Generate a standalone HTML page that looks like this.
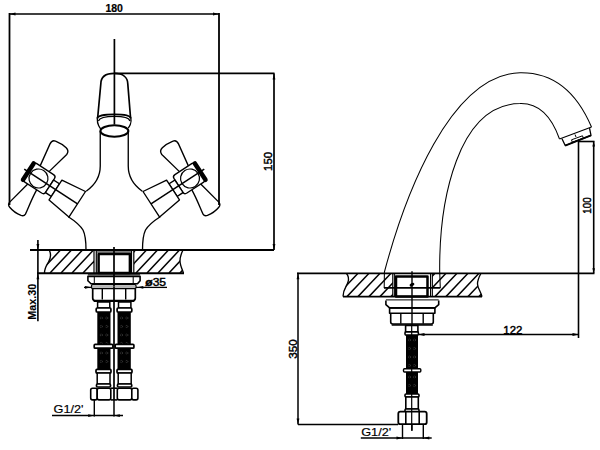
<!DOCTYPE html>
<html><head><meta charset="utf-8"><style>
html,body{margin:0;padding:0;background:#fff;}
svg{display:block;}
text{font-family:"Liberation Sans",sans-serif;}
</style></head><body>
<svg width="600" height="450" viewBox="0 0 600 450">
<rect width="600" height="450" fill="#fff"/>
<g fill="none" stroke="#000" stroke-width="1.35" stroke-linecap="butt" stroke-linejoin="round">
  <!-- LEFT VIEW dims -->
  <line x1="9.5" y1="14" x2="219" y2="14" stroke-width="1.7"/>
  <line x1="9.5" y1="13" x2="9.5" y2="205" stroke-width="1.8"/>
  <line x1="219" y1="13" x2="219" y2="205" stroke-width="1.8"/>
  <line x1="114.4" y1="39" x2="114.4" y2="124.5" stroke-width="1.7"/>
  <line x1="114.4" y1="73.4" x2="274.5" y2="73.4" stroke-width="1.7"/>
  <line x1="274" y1="73.4" x2="274" y2="250" stroke-width="1.7"/>
  <line x1="30" y1="250" x2="274" y2="250" stroke-width="1.9"/>
  <line x1="37" y1="273.2" x2="184" y2="273.2" stroke-width="1.9"/>
  <line x1="37.9" y1="240" x2="37.9" y2="321.3" stroke-width="1.6"/>
  <!-- spout cap -->
  <path d="M97.6,118.5 L100.8,84 C100.8,77 106,73.4 114.4,73.4 C122.5,73.4 127.8,77 127.8,84 L130.6,118.5" stroke-width="1.7"/>
  <path d="M97.25,118 C97.8,115.8 105,114.3 114.4,114.3 C124,114.3 130.3,115.8 130.8,118" stroke-width="1.7"/>
  <path d="M98.4,121 C99.5,118.2 106,116.4 114.4,116.4 C123,116.4 129.2,118.2 130,121" stroke-width="1.3"/>
  <path d="M97.25,118 C97.25,121 97.8,124 98.6,125.5 C99.2,126.8 100,128 100.8,129"/>
  <path d="M130.8,118 C131.2,120 131,123 130.3,124.5 C129.8,125.8 129,127 128.2,128"/>
  <ellipse cx="114.4" cy="131" rx="14" ry="5.7" stroke-width="2"/>
  
<path d="M100.25,131 L100.25,166 C100.25,177 95,185 86.2,191.2"/>
<path d="M68.3,216.7 C75,221 80,225 83,230 C85.5,235 86,240 86,250"/>

<g transform="translate(38.5,178.5) rotate(33)">
  <path d="M-5.5,-11.5 L-9.2,-35.3 Q-9.8,-40 -6,-40.6 Q1,-41.9 6.5,-40.8 Q10.9,-39.8 10.6,-35.5 Q8,-24 5.1,-11.5" />
  <path d="M-6,10.5 L-11.3,35.5 Q-11.6,39 -8.5,39.8 C-4,41.2 2,41.2 5.5,40.5 Q8.6,39.6 8.45,37 C7.5,30 5.5,22 4.6,10.5" />
  <rect x="-12.5" y="-11.5" width="26" height="22" rx="3" fill="#fff"/>
  <line x1="-12.3" y1="-10" x2="-12.3" y2="9.5" stroke-width="4.5" stroke-linecap="round"/>
  <circle cx="0" cy="0" r="9.5" stroke-width="1.2"/>
  <rect x="13.5" y="-7" width="7" height="15" fill="#fff"/>
  <path d="M20.5,-11.4 L46.5,-14.7 L46.5,15.8 L20.5,12.2 Z" fill="#fff"/>
  <line x1="-17" y1="0" x2="46.5" y2="0" stroke-width="1.5"/>
</g>
  <g transform="matrix(-1,0,0,1,228.5,0)">
<path d="M100.25,131 L100.25,166 C100.25,177 95,185 86.2,191.2"/>
<path d="M68.3,216.7 C75,221 80,225 83,230 C85.5,235 86,240 86,250"/>

<g transform="translate(38.5,178.5) rotate(33)">
  <path d="M-5.5,-11.5 L-9.2,-35.3 Q-9.8,-40 -6,-40.6 Q1,-41.9 6.5,-40.8 Q10.9,-39.8 10.6,-35.5 Q8,-24 5.1,-11.5" />
  <path d="M-6,10.5 L-11.3,35.5 Q-11.6,39 -8.5,39.8 C-4,41.2 2,41.2 5.5,40.5 Q8.6,39.6 8.45,37 C7.5,30 5.5,22 4.6,10.5" />
  <rect x="-12.5" y="-11.5" width="26" height="22" rx="3" fill="#fff"/>
  <line x1="-12.3" y1="-10" x2="-12.3" y2="9.5" stroke-width="4.5" stroke-linecap="round"/>
  <circle cx="0" cy="0" r="9.5" stroke-width="1.2"/>
  <rect x="13.5" y="-7" width="7" height="15" fill="#fff"/>
  <path d="M20.5,-11.4 L46.5,-14.7 L46.5,15.8 L20.5,12.2 Z" fill="#fff"/>
  <line x1="-17" y1="0" x2="46.5" y2="0" stroke-width="1.5"/>
</g></g>
  <!-- counter hatch left -->
  <path d="M49.5,250.5 C51,254 51,258 48.5,262 C46,266 44.5,268 44.5,273"/>
  <path d="M183,250 C181,254 180,257 180,261 C180,265 182,269 183.5,273"/>
  <g stroke-width="1.5" clip-path="url(#clipL)"><line x1="28.0" y1="273.0" x2="49.5" y2="250.0"/><line x1="39.0" y1="273.0" x2="60.5" y2="250.0"/><line x1="50.0" y1="273.0" x2="71.5" y2="250.0"/><line x1="61.0" y1="273.0" x2="82.5" y2="250.0"/><line x1="72.0" y1="273.0" x2="93.5" y2="250.0"/><line x1="83.0" y1="273.0" x2="104.5" y2="250.0"/></g>
  <g stroke-width="1.5" clip-path="url(#clipL2)"><line x1="114.0" y1="273.0" x2="135.5" y2="250.0"/><line x1="125.0" y1="273.0" x2="146.5" y2="250.0"/><line x1="136.0" y1="273.0" x2="157.5" y2="250.0"/><line x1="147.0" y1="273.0" x2="168.5" y2="250.0"/><line x1="158.0" y1="273.0" x2="179.5" y2="250.0"/><line x1="169.0" y1="273.0" x2="190.5" y2="250.0"/><line x1="180.0" y1="273.0" x2="201.5" y2="250.0"/><line x1="191.0" y1="273.0" x2="212.5" y2="250.0"/></g>
  <line x1="94" y1="250" x2="94" y2="273" stroke-width="1.2"/>
  <line x1="96.3" y1="250" x2="96.3" y2="273" stroke-width="1.2"/>
  <line x1="131.5" y1="250" x2="131.5" y2="273" stroke-width="1.2"/>
  <line x1="133.8" y1="250" x2="133.8" y2="273" stroke-width="1.2"/>
  <rect x="98.6" y="253.9" width="31.3" height="19.2" stroke-width="2.5"/>
  <line x1="97" y1="252" x2="131" y2="252" stroke-width="1"/>
  <line x1="114" y1="247" x2="114" y2="300" stroke-width="1.7"/>
  <!-- flange left -->
  <line x1="87.9" y1="274.8" x2="140.1" y2="274.8" stroke-width="1"/>
  <path d="M87.9,276.4 L140.1,276.4 L140.1,280.7 L137.5,283.8 L91,283.8 L87.9,280.7 Z" stroke-width="1.6"/>
  <line x1="94.3" y1="276.4" x2="94.3" y2="284.2" stroke-width="1"/>
  <line x1="133.2" y1="276.4" x2="133.2" y2="284.2" stroke-width="1"/>
  <rect x="91.5" y="284.6" width="44.5" height="3.9" rx="1.2" stroke-width="1.3"/>
  <line x1="92" y1="286.6" x2="135.5" y2="286.6" stroke-width="0.6" stroke="#777"/>
  <line x1="84" y1="287.4" x2="91.5" y2="287.4" stroke-width="1.3"/>
  <line x1="136" y1="287.4" x2="167" y2="287.4" stroke-width="1.3"/>
  <path d="M92.7,288.7 L92.7,298 Q92.7,300.5 95,300.5 L133,300.5 Q135.3,300.5 135.3,298 L135.3,288.7" stroke-width="1.7"/>
  <line x1="102.3" y1="288.7" x2="102.3" y2="299.5" stroke-width="1.4"/>
  <line x1="125.7" y1="288.7" x2="125.7" y2="299.5" stroke-width="1.4"/>
  <line x1="93.7" y1="301" x2="134.3" y2="301" stroke-width="1.9"/>
  <!-- hoses left -->
  <g stroke-width="1.5">
    <rect x="97.6" y="302" width="12.2" height="6" fill="#fff"/>
    <rect x="118.5" y="302" width="12.4" height="6" fill="#fff"/>
    <rect x="96.2" y="308" width="14.7" height="4" rx="1" fill="#fff" stroke-width="1.7"/>
    <rect x="117.1" y="308" width="14.7" height="4" rx="1" fill="#fff" stroke-width="1.7"/>
    <rect x="97.3" y="312" width="13.2" height="57.4" fill="#000" stroke="none"/>
    <rect x="117.5" y="312" width="13.3" height="57.4" fill="#000" stroke="none"/>
    <g stroke="#777" stroke-width="0.5" fill="none" stroke-dasharray="1 0.8"><circle cx="101.3" cy="318.0" r="1.1"/><circle cx="106.7" cy="318.0" r="1.1"/><circle cx="121.5" cy="318.0" r="1.1"/><circle cx="126.8" cy="318.0" r="1.1"/><circle cx="101.3" cy="326.5" r="1.1"/><circle cx="106.7" cy="326.5" r="1.1"/><circle cx="121.5" cy="326.5" r="1.1"/><circle cx="126.8" cy="326.5" r="1.1"/><circle cx="101.3" cy="335.0" r="1.1"/><circle cx="106.7" cy="335.0" r="1.1"/><circle cx="121.5" cy="335.0" r="1.1"/><circle cx="126.8" cy="335.0" r="1.1"/><circle cx="101.3" cy="343.5" r="1.1"/><circle cx="106.7" cy="343.5" r="1.1"/><circle cx="121.5" cy="343.5" r="1.1"/><circle cx="126.8" cy="343.5" r="1.1"/></g><g stroke="#777" stroke-width="0.5" fill="none" stroke-dasharray="1 0.8"><circle cx="101.3" cy="353.0" r="1.1"/><circle cx="106.7" cy="353.0" r="1.1"/><circle cx="121.5" cy="353.0" r="1.1"/><circle cx="126.8" cy="353.0" r="1.1"/><circle cx="101.3" cy="361.5" r="1.1"/><circle cx="106.7" cy="361.5" r="1.1"/><circle cx="121.5" cy="361.5" r="1.1"/><circle cx="126.8" cy="361.5" r="1.1"/></g>
    <rect x="94.2" y="344.3" width="18.7" height="3.9" rx="1" fill="#fff" stroke-width="1.7"/>
    <rect x="115.2" y="344.3" width="18.7" height="3.9" rx="1" fill="#fff" stroke-width="1.7"/>
    <rect x="96" y="369.4" width="15" height="3.7" rx="1" fill="#fff" stroke-width="1.7"/>
    <rect x="117" y="369.4" width="15" height="3.7" rx="1" fill="#fff" stroke-width="1.7"/>
    <rect x="97.2" y="373.1" width="12.8" height="11" fill="#fff"/>
    <rect x="118.2" y="373.1" width="13" height="11" fill="#fff"/>
    <rect x="96.5" y="384" width="14" height="3" rx="1" fill="#fff" stroke-width="1.7"/>
    <rect x="117.5" y="384" width="14.2" height="3" rx="1" fill="#fff" stroke-width="1.7"/>
    <rect x="90.7" y="388.2" width="6.5" height="11.7" rx="1.8" fill="#fff" stroke-width="1.6"/>
    <rect x="97.2" y="388.2" width="13.6" height="11.7" rx="1.8" fill="#fff" stroke-width="1.6"/>
    <rect x="117.3" y="388.2" width="14.5" height="11.7" rx="1.8" fill="#fff" stroke-width="1.6"/>
    <rect x="131.8" y="388.2" width="6.1" height="11.7" rx="1.8" fill="#fff" stroke-width="1.6"/>
    <line x1="110.8" y1="388.2" x2="117.3" y2="388.2" stroke-width="1.6"/>
    <line x1="110.8" y1="399.9" x2="117.3" y2="399.9" stroke-width="1.6"/>
    <line x1="114" y1="301" x2="114" y2="400" stroke-width="1.7"/>
    <line x1="94.3" y1="399.9" x2="94.3" y2="416.5" stroke-width="1.4"/>
    <line x1="114" y1="399.9" x2="114" y2="416.5" stroke-width="1.5"/>
    <line x1="52" y1="415.6" x2="123" y2="415.6" stroke-width="1.5"/>
  </g>
  <!-- RIGHT VIEW -->
  <path d="M384.2,288 L384.4,272 C405,195 450,75 520,72.7 C560,72 580,100 591.5,127" stroke-width="1.05"/>
  <path d="M440.3,288 L439.7,272 C439,200 458,104 520,103.6 C540,103 552,118 559.5,139" stroke-width="1.05"/>
  <path d="M559.5,139 L591.5,127" stroke-width="1.2"/>
  <path d="M562,138.8 L565.2,145.5 L591,135.3 L589.5,128.2" stroke-width="1.3"/>
  <line x1="565.2" y1="145.6" x2="591" y2="135.4" stroke-width="1.7"/>
  <path d="M571.5,139.8 L582.5,135.8 L583.3,138.2 L572.3,142.2 Z" stroke-width="1"/>
  <line x1="575" y1="134.5" x2="576" y2="137" stroke-width="1"/>
  <line x1="578.5" y1="141.5" x2="578.5" y2="338" stroke-width="1.6"/>
  <line x1="593.7" y1="141.5" x2="593.7" y2="273" stroke-width="1.6"/>
  <line x1="578" y1="141.5" x2="594.5" y2="141.5" stroke-width="1.6"/>
  <line x1="297" y1="273.3" x2="594.5" y2="273.3" stroke-width="1.7"/>
  <line x1="343" y1="296.6" x2="482" y2="296.6" stroke-width="1.7"/>
  <line x1="298" y1="272.8" x2="298" y2="424.5" stroke-width="1.5"/>
  <line x1="298" y1="424.5" x2="398" y2="424.5" stroke-width="1.6"/>
  <line x1="418" y1="334.5" x2="578.5" y2="334.5" stroke-width="1.6"/>
  <path d="M346.5,273.5 C348.5,276 349,279 348,282 C347,286 343,289 343,296.6"/>
  <path d="M481,273.3 C479,277 477.5,280 477.5,284 C477.5,288 481,292 482,296.6"/>
  <g stroke-width="1.5" clip-path="url(#clipR)"><line x1="325.0" y1="296.6" x2="347.0" y2="273.3"/><line x1="336.0" y1="296.6" x2="358.0" y2="273.3"/><line x1="347.0" y1="296.6" x2="369.0" y2="273.3"/><line x1="358.0" y1="296.6" x2="380.0" y2="273.3"/><line x1="369.0" y1="296.6" x2="391.0" y2="273.3"/><line x1="380.0" y1="296.6" x2="402.0" y2="273.3"/><line x1="391.0" y1="296.6" x2="413.0" y2="273.3"/><line x1="402.0" y1="296.6" x2="424.0" y2="273.3"/><line x1="413.0" y1="296.6" x2="435.0" y2="273.3"/><line x1="424.0" y1="296.6" x2="446.0" y2="273.3"/><line x1="435.0" y1="296.6" x2="457.0" y2="273.3"/><line x1="446.0" y1="296.6" x2="468.0" y2="273.3"/><line x1="457.0" y1="296.6" x2="479.0" y2="273.3"/><line x1="468.0" y1="296.6" x2="490.0" y2="273.3"/><line x1="479.0" y1="296.6" x2="501.0" y2="273.3"/><line x1="490.0" y1="296.6" x2="512.0" y2="273.3"/></g>
  <line x1="392.8" y1="273.3" x2="392.8" y2="296.6" stroke-width="1.2"/>
  <line x1="394.6" y1="273.3" x2="394.6" y2="296.6" stroke-width="1"/>
  <line x1="430.5" y1="273.3" x2="430.5" y2="296.6" stroke-width="1"/>
  <line x1="432.3" y1="273.3" x2="432.3" y2="296.6" stroke-width="1.2"/>
  <rect x="396" y="276.5" width="31.5" height="20.1" stroke-width="2.5"/>
  <line x1="384" y1="287.9" x2="440.3" y2="287.9" stroke-width="1.7"/>
  <line x1="412" y1="271.3" x2="412" y2="430.8" stroke-width="1.4"/>
  <ellipse cx="412" cy="284.7" rx="2.6" ry="1.6" transform="rotate(-30 412 284.7)" fill="#000" stroke="none"/>
  <line x1="385.9" y1="299.9" x2="438.7" y2="299.9" stroke-width="1"/>
  <path d="M385.9,300.5 L385.9,304.7 L389.6,307.9 L434.9,307.9 L438.7,304.7 L438.7,300.5" stroke-width="1.6"/>
  <line x1="389.6" y1="307.9" x2="434.9" y2="307.9" stroke-width="1.7"/>
  <path d="M389.6,307.9 L389.6,313.2 L434.9,313.2 L434.9,307.9" stroke-width="1.6"/>
  <path d="M390.7,313.2 L390.7,322 Q390.7,324 393,324 L431,324 Q433.3,324 433.3,322 L433.3,313.2" stroke-width="1.6"/>
  <line x1="400.8" y1="313.2" x2="400.8" y2="323.8" stroke-width="1.4"/>
  <line x1="423.2" y1="313.2" x2="423.2" y2="323.8" stroke-width="1.4"/>
  <line x1="391.7" y1="325" x2="432.8" y2="325" stroke-width="1.7"/>
  <g stroke-width="1.6">
    <rect x="405.6" y="325.5" width="12.3" height="6.4" fill="#fff"/>
    <rect x="405" y="331.9" width="13.4" height="3.2" rx="1" fill="#fff"/>
    <rect x="406" y="335.1" width="12" height="58.9" fill="#000" stroke="none"/>
    <g stroke="#777" stroke-width="0.5" fill="none" stroke-dasharray="1 0.8"><circle cx="409.5" cy="340.0" r="1.1"/><circle cx="414.5" cy="340.0" r="1.1"/><circle cx="409.5" cy="348.5" r="1.1"/><circle cx="414.5" cy="348.5" r="1.1"/><circle cx="409.5" cy="357.0" r="1.1"/><circle cx="414.5" cy="357.0" r="1.1"/><circle cx="409.5" cy="365.5" r="1.1"/><circle cx="414.5" cy="365.5" r="1.1"/></g><g stroke="#777" stroke-width="0.5" fill="none" stroke-dasharray="1 0.8"><circle cx="409.5" cy="377.0" r="1.1"/><circle cx="414.5" cy="377.0" r="1.1"/><circle cx="409.5" cy="385.5" r="1.1"/><circle cx="414.5" cy="385.5" r="1.1"/></g>
    <rect x="403.5" y="368.8" width="17.3" height="3.2" rx="1" fill="#fff" stroke-width="1.4"/>
    <rect x="405" y="394" width="14" height="3" rx="1" fill="#fff"/>
    <rect x="405.8" y="397" width="12.5" height="12" fill="#fff"/>
    <rect x="405" y="409" width="14" height="2.7" rx="1" fill="#fff"/>
    <rect x="398.3" y="411.7" width="28.4" height="12.5" rx="2" fill="#fff" stroke-width="1.8"/>
    <line x1="405.8" y1="411.7" x2="405.8" y2="424.2"/>
    <line x1="419.2" y1="411.7" x2="419.2" y2="424.2"/>
    <line x1="411.7" y1="325" x2="411.7" y2="430.8" stroke-width="1.2"/>
    <line x1="402.5" y1="424.2" x2="402.5" y2="439" stroke-width="1.4"/>
    <line x1="423.3" y1="424.2" x2="423.3" y2="439" stroke-width="1.4"/>
    <line x1="360.8" y1="438" x2="431.7" y2="438" stroke-width="1.5"/>
  </g>
</g>
<g fill="#000" stroke="none"><polygon points="9.5,14.0 15.5,12.6 15.5,15.4"/><polygon points="219.0,14.0 213.0,12.6 213.0,15.4"/><polygon points="274.0,73.4 272.6,79.4 275.4,79.4"/><polygon points="274.0,250.0 272.6,244.0 275.4,244.0"/><polygon points="37.9,250.0 36.5,244.0 39.3,244.0"/><polygon points="37.9,273.2 36.5,279.2 39.3,279.2"/><polygon points="91.0,287.3 85.0,285.9 85.0,288.7"/><polygon points="137.3,287.3 143.3,285.9 143.3,288.7"/><polygon points="94.2,415.6 88.2,414.2 88.2,417.0"/><polygon points="113.9,415.6 119.9,414.2 119.9,417.0"/><polygon points="593.7,141.5 592.4,146.5 595.0,146.5"/><polygon points="593.7,273.3 592.4,268.3 595.0,268.3"/><polygon points="418.5,334.5 424.5,333.1 424.5,335.9"/><polygon points="578.5,334.5 572.5,333.1 572.5,335.9"/><polygon points="298.0,273.3 296.6,279.3 299.4,279.3"/><polygon points="298.0,424.5 296.6,418.5 299.4,418.5"/><polygon points="402.5,438.0 396.5,436.6 396.5,439.4"/><polygon points="423.3,438.0 429.3,436.6 429.3,439.4"/></g>
<g fill="#000" stroke="#000" stroke-width="0.45" font-family="Liberation Sans, sans-serif">
  <text x="114.2" y="12.2" font-size="11" font-weight="bold" stroke-width="0.2" text-anchor="middle" textLength="17.5" lengthAdjust="spacingAndGlyphs">180</text>
  <text transform="translate(271.8,161.4) rotate(-90)" font-size="11" text-anchor="middle" textLength="19" lengthAdjust="spacingAndGlyphs">150</text>
  <text transform="translate(36.2,301.8) rotate(-90)" font-size="10.5" font-weight="bold" stroke-width="0.1" text-anchor="middle" textLength="36" lengthAdjust="spacingAndGlyphs">Max.30</text>
  <text x="145.3" y="285.6" font-size="11" textLength="20.8" lengthAdjust="spacingAndGlyphs"><tspan font-weight="bold">ø</tspan>35</text>
  <text x="53.5" y="413.3" font-size="10.5" stroke-width="0.15" textLength="30" lengthAdjust="spacingAndGlyphs">G1/2'</text>
  <text x="361.2" y="435.9" font-size="10.5" stroke-width="0.15" textLength="30" lengthAdjust="spacingAndGlyphs">G1/2'</text>
  <text transform="translate(296.5,348.9) rotate(-90)" font-size="11" text-anchor="middle" textLength="19.5" lengthAdjust="spacingAndGlyphs">350</text>
  <text transform="translate(591.2,205.5) rotate(-90)" font-size="11" text-anchor="middle" textLength="16.5" lengthAdjust="spacingAndGlyphs">100</text>
  <text x="512.8" y="334" font-size="11" text-anchor="middle" textLength="19" lengthAdjust="spacingAndGlyphs">122</text>
</g>
<defs>
  <clipPath id="clipL">
    <path d="M49.5,250.5 C51,254 51,258 48.5,262 C46,266 44.5,268 44.5,273 L94,273 L94,250 Z"/>
  </clipPath>
  <clipPath id="clipL2">
    <path d="M134,250 L183,250 C181,254 180,257 180,261 C180,265 182,269 183.5,273 L134,273 Z"/>
  </clipPath>
  <clipPath id="clipR">
    <path d="M346.5,273.5 C348.5,276 349,279 348,282 C347,286 343,289 343,296.6 L392.8,296.6 L392.8,273.3 Z"/>
    <path d="M432.3,273.3 L481,273.3 C479,277 477.5,280 477.5,284 C477.5,288 481,292 482,296.6 L432.3,296.6 Z"/>
  </clipPath>
</defs>
</svg>
</body></html>
